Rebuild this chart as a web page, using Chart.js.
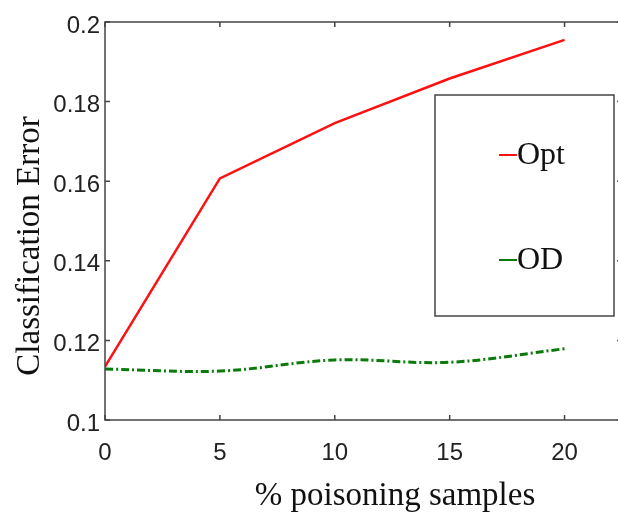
<!DOCTYPE html>
<html>
<head>
<meta charset="utf-8">
<script src="https://cdn.jsdelivr.net/npm/chart.js@4.4.0/dist/chart.umd.min.js"></script>
<style>
  html, body { margin: 0; padding: 0; overflow: hidden; background: #fff; }
  canvas { display: block; }
</style>
</head>
<body>
<canvas id="chart" width="640" height="515"></canvas>
<script>
// values
const poisonPct = [0, 5, 10, 15, 20];
const optError = [0.1134, 0.1607, 0.1746, 0.1858, 0.1955];
const odError = [0.1128, 0.1123, 0.1151, 0.1145, 0.1179];
const xTickValues = [0, 5, 10, 15, 20];
const yTickValues = [0.1, 0.12, 0.14, 0.16, 0.18, 0.2];
const xTitle = '% poisoning samples';
const yTitle = 'Classification Error';

const tickFont = { family: "'Liberation Sans Narrow', 'Arial Narrow', 'Liberation Sans', sans-serif", size: 24 };
const serif = "'Liberation Serif', 'Times New Roman', serif";
const frameColor = '#444';

// box, inward ticks, axis titles and legend box
const framePlugin = {
  id: 'frame',
  afterDatasetsDraw(chart) {
    const { ctx, chartArea: a, scales } = chart;
    ctx.save();
    ctx.strokeStyle = frameColor;
    ctx.lineWidth = 1.5;
    ctx.strokeRect(a.left, a.top, a.right - a.left, a.bottom - a.top);
    ctx.beginPath();
    const len = 5;
    xTickValues.forEach(v => {
      const px = scales.x.getPixelForValue(v);
      ctx.moveTo(px, a.bottom); ctx.lineTo(px, a.bottom - len);
      ctx.moveTo(px, a.top); ctx.lineTo(px, a.top + len);
    });
    yTickValues.forEach(v => {
      const py = scales.y.getPixelForValue(v);
      ctx.moveTo(a.left, py); ctx.lineTo(a.left + len, py);
      ctx.moveTo(a.right, py); ctx.lineTo(a.right - len, py);
    });
    ctx.stroke();
    ctx.restore();
  },
  afterDraw(chart) {
    const { ctx } = chart;
    ctx.save();
    ctx.fillStyle = '#111';
    ctx.font = '33px ' + serif;
    ctx.textAlign = 'center';
    ctx.textBaseline = 'middle';
    ctx.fillText(xTitle, 395, 496);
    ctx.translate(30, 246);
    ctx.rotate(-Math.PI / 2);
    ctx.fillText(yTitle, 0, 0);
    ctx.restore();

    // legend box inside the plot
    ctx.save();
    ctx.fillStyle = '#fff';
    ctx.fillRect(435, 95, 179, 221);
    ctx.strokeStyle = frameColor;
    ctx.lineWidth = 1.5;
    ctx.strokeRect(435, 95, 179, 221);
    const rows = [155, 260];
    chart.data.datasets.forEach((ds, i) => {
      ctx.strokeStyle = ds.borderColor;
      ctx.lineWidth = 2;
      ctx.beginPath();
      ctx.moveTo(499, rows[i]);
      ctx.lineTo(517, rows[i]);
      ctx.stroke();
      ctx.fillStyle = '#111';
      ctx.font = '32px ' + serif;
      ctx.textAlign = 'left';
      ctx.textBaseline = 'middle';
      ctx.fillText(ds.label, 517, rows[i] + 1);
    });
    ctx.restore();
  }
};

new Chart(document.getElementById('chart'), {
  type: 'line',
  data: {
    datasets: [
      {
        label: 'Opt',
        data: poisonPct.map((x, i) => ({ x, y: optError[i] })),
        borderColor: '#ff1010',
        borderWidth: 2.5,
        pointRadius: 0,
        tension: 0,
        fill: false
      },
      {
        label: 'OD',
        data: poisonPct.map((x, i) => ({ x, y: odError[i] })),
        borderColor: '#0a7a0a',
        borderWidth: 3,
        borderDash: [8, 3, 2, 3],
        pointRadius: 0,
        tension: 0.35,
        fill: false
      }
    ]
  },
  options: {
    responsive: false,
    animation: false,
    layout: { padding: { top: 22, right: 18, left: 0, bottom: 0 } },
    plugins: {
      legend: { display: false },
      tooltip: { enabled: false }
    },
    scales: {
      x: {
        type: 'linear',
        min: 0,
        max: 22.5,
        afterBuildTicks: s => { s.ticks = xTickValues.map(v => ({ value: v })); },
        afterFit: s => { s.height = 95; },
        grid: { display: false, drawTicks: false },
        border: { display: false },
        ticks: { font: tickFont, color: '#222', padding: 19, maxRotation: 0 }
      },
      y: {
        min: 0.1,
        max: 0.2,
        afterBuildTicks: s => { s.ticks = yTickValues.map(v => ({ value: v })); },
        afterFit: s => { s.width = 105; },
        grid: { display: false, drawTicks: false },
        border: { display: false },
        ticks: {
          font: tickFont,
          color: '#222',
          padding: 5,
          labelOffset: 4,
          callback: v => String(+v.toFixed(2))
        }
      }
    }
  },
  plugins: [framePlugin]
});
</script>
</body>
</html>
